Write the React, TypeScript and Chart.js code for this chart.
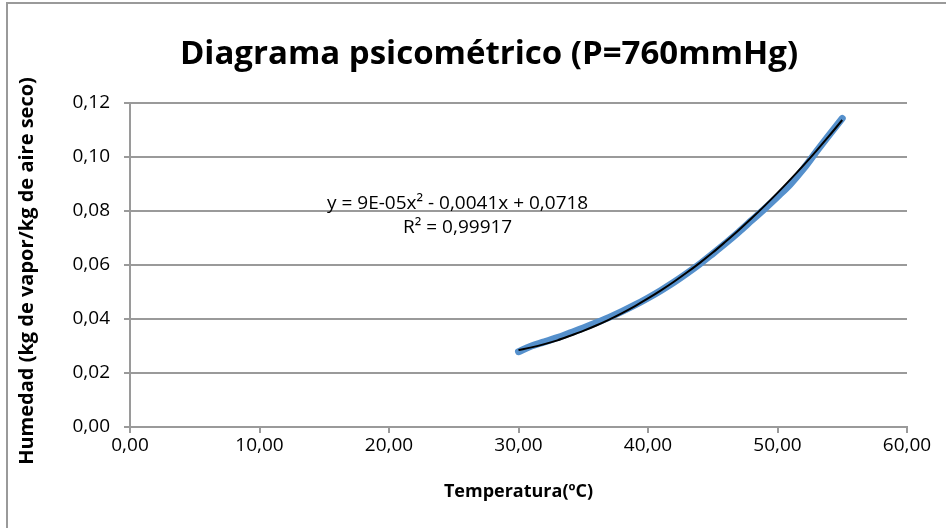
import React, { useEffect, useRef } from "react";
import { Chart, registerables } from "chart.js";

Chart.register(...registerables);

const chartTitle = "Diagrama psicométrico (P=760mmHg)";
const xAxisTitle = "Temperatura(ºC)";
const yAxisTitle = "Humedad (kg de vapor/kg de aire seco)";
const equationLines = ["y = 9E-05x² - 0,0041x + 0,0718", "R² = 0,99917"];

const temperatures = [30, 31, 32, 33, 34, 35, 36, 37, 38, 39, 40, 41, 42, 43, 44, 45, 46, 47, 48, 49, 50, 51, 52, 53, 54, 55];
const humidity = [
  0.0279, 0.03, 0.0315, 0.0331, 0.0349, 0.0367, 0.0386, 0.0406, 0.0428, 0.0452,
  0.0478, 0.0506, 0.0536, 0.0569, 0.0604, 0.0642, 0.0681, 0.0722, 0.0765, 0.0808,
  0.0853, 0.09, 0.0956, 0.102, 0.1082, 0.1143,
];
const trendHumidity = [
  0.0285, 0.0295, 0.0307, 0.0321, 0.0338, 0.0356, 0.0376, 0.0398, 0.0422, 0.0448,
  0.0476, 0.0506, 0.0538, 0.0572, 0.0608, 0.0646, 0.0687, 0.0729, 0.0773, 0.0819,
  0.0867, 0.0917, 0.0969, 0.1023, 0.1079, 0.1137,
];

const xMin = 0, xMax = 60, xStep = 10;
const yMin = 0, yMax = 0.12, yStep = 0.02;

const FONT = "'Open Sans', 'DejaVu Sans', sans-serif";

export default function App() {
  const ref = useRef<HTMLCanvasElement | null>(null);

  useEffect(() => {
    document.body.style.margin = "0";
    const canvas = ref.current;
    if (!canvas) return;

    const frame = {
      id: "frame",
      beforeDraw(chart: any) {
        const ctx = chart.ctx;
        ctx.save();
        ctx.fillStyle = "#ffffff";
        ctx.fillRect(0, 0, chart.width, chart.height);
        ctx.strokeStyle = "#9a9a9a";
        ctx.lineWidth = 2;
        ctx.strokeRect(7, 3, 2000, 2000);
        ctx.restore();
      },
      afterDraw(chart: any) {
        const ctx = chart.ctx;
        ctx.save();
        ctx.fillStyle = "#000";
        ctx.font = `bold 33px ${FONT}`;
        ctx.textAlign = "center";
        ctx.textBaseline = "middle";
        ctx.fillText(chartTitle, 489, 55);
        ctx.translate(27, 271);
        ctx.rotate(-Math.PI / 2);
        ctx.font = `bold 20px ${FONT}`;
        ctx.fillText(yAxisTitle, 0, 0);
        ctx.restore();
      },
    };

    const equation = {
      id: "equation",
      afterDatasetsDraw(chart: any) {
        const ctx = chart.ctx;
        const xs = chart.scales.x;
        const ys = chart.scales.y;
        const cx = xs.getPixelForValue(25.3);
        const cy = ys.getPixelForValue(0.0826);
        ctx.save();
        ctx.fillStyle = "#000";
        ctx.font = `19px ${FONT}`;
        ctx.textAlign = "center";
        ctx.textBaseline = "middle";
        equationLines.forEach((t, i) => ctx.fillText(t, cx, cy + i * 24));
        ctx.restore();
      },
    };

    const fmt = (d: number) => (v: any) => Number(v).toFixed(d).replace(".", ",");

    const chart = new Chart(canvas, {
      type: "scatter",
      data: {
        datasets: [
          {
            label: "Tendencia",
            data: temperatures.map((t, i) => ({ x: t, y: trendHumidity[i] })),
            showLine: true,
            borderColor: "#000000",
            borderWidth: 2,
            pointRadius: 0,
            cubicInterpolationMode: "monotone",
          },
          {
            label: "Saturación",
            data: temperatures.map((t, i) => ({ x: t, y: humidity[i] })),
            showLine: true,
            borderColor: "#5590cc",
            borderWidth: 7,
            borderCapStyle: "round",
            borderJoinStyle: "round",
            pointRadius: 0,
            cubicInterpolationMode: "monotone",
          },
        ],
      },
      plugins: [frame, equation],
      options: {
        animation: false,
        responsive: true,
        maintainAspectRatio: false,
        layout: { padding: { left: 8, right: 39, top: 103, bottom: 0 } },
        plugins: {
          legend: { display: false },
          tooltip: { enabled: false },
          title: { display: false },
        },
        scales: {
          x: {
            type: "linear",
            min: xMin,
            max: xMax,
            afterFit(scale: any) {
              scale.height = 101;
            },
            ticks: {
              stepSize: xStep,
              callback: fmt(2),
              color: "#000",
              font: { family: FONT, size: 19 },
              padding: 1,
              maxRotation: 0,
            },
            grid: {
              drawOnChartArea: false,
              drawTicks: true,
              tickLength: 6,
              color: "#9a9a9a",
              lineWidth: 2,
            },
            border: { color: "#9a9a9a", width: 2 },
            title: {
              display: true,
              text: xAxisTitle,
              color: "#000",
              font: { family: FONT, size: 18, weight: "bold" },
              padding: { top: 0, bottom: 25 },
            },
          },
          y: {
            type: "linear",
            min: yMin,
            max: yMax,
            afterFit(scale: any) {
              scale.width = 122;
            },
            ticks: {
              stepSize: yStep,
              callback: fmt(2),
              color: "#000",
              font: { family: FONT, size: 19 },
              padding: 14,
            },
            grid: {
              drawOnChartArea: true,
              drawTicks: true,
              tickLength: 6,
              color: "#9a9a9a",
              lineWidth: 2,
            },
            border: { color: "#9a9a9a", width: 2 },
            title: { display: false },
          },
        },
      },
    } as any);

    return () => chart.destroy();
  }, []);

  return (
    <div style={{ position: "relative", width: 946, height: 528 }}>
      <canvas ref={ref} />
    </div>
  );
}
